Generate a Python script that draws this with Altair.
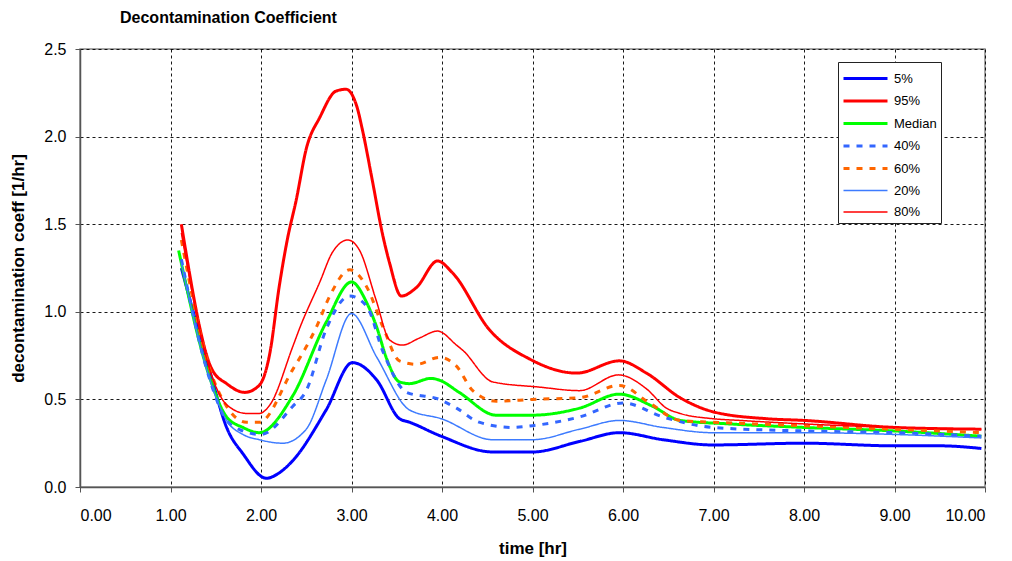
import altair as alt
import pandas as pd

series_order = ["5%", "95%", "Median", "40%", "60%", "20%", "80%"]
series_colors = ["#0000FF", "#FF0000", "#00FF00", "#3366FF", "#FF6600", "#3D7BFF", "#FF0000"]
series_widths = [3, 3, 3, 3, 3, 1.5, 1.5]
series_dash = [[1, 0], [1, 0], [1, 0], [6, 7], [6, 7], [1, 0], [1, 0]]

t5 = [1.12, 1.43, 1.62, 1.80, 2.06, 2.20, 2.35, 2.72, 3.01, 3.28, 3.53, 3.64, 3.99, 4.56, 5.0, 5.52, 5.96, 6.44, 6.99, 8.0, 9.0, 9.5, 9.96]
v5 = [1.25, 0.67, 0.34, 0.19, 0.05, 0.08, 0.15, 0.44, 0.71, 0.61, 0.39, 0.37, 0.29, 0.20, 0.20, 0.26, 0.31, 0.27, 0.24, 0.25, 0.235, 0.235, 0.22]

t95 = [1.12, 1.46, 1.62, 1.82, 1.98, 2.10, 2.20, 2.29, 2.39, 2.50, 2.65, 2.83, 2.94, 3.06, 3.12, 3.23, 3.34, 3.42, 3.55, 3.72, 3.95, 4.12, 4.52, 4.97, 5.49, 5.96, 6.26, 6.63, 6.99, 7.58, 8.0, 9.0, 9.96]
v95 = [1.50, 0.67, 0.59, 0.54, 0.58, 0.77, 1.14, 1.41, 1.64, 1.93, 2.11, 2.26, 2.27, 2.17, 2.04, 1.75, 1.45, 1.28, 1.09, 1.14, 1.29, 1.22, 0.90, 0.73, 0.65, 0.72, 0.65, 0.51, 0.43, 0.39, 0.38, 0.34, 0.33]

t50 = [1.09, 1.43, 1.62, 1.80, 1.98, 2.35, 2.72, 3.0, 3.17, 3.28, 3.39, 3.53, 3.64, 3.88, 3.97, 4.19, 4.60, 5.0, 5.52, 5.96, 6.33, 6.63, 7.18, 8.0, 9.0, 9.96]
v50 = [1.35, 0.63, 0.40, 0.34, 0.31, 0.52, 0.94, 1.17, 1.05, 0.91, 0.73, 0.60, 0.59, 0.62, 0.61, 0.54, 0.41, 0.41, 0.45, 0.53, 0.46, 0.38, 0.36, 0.34, 0.32, 0.29]

t40 = [1.12, 1.43, 1.62, 1.80, 2.0, 2.35, 2.50, 2.72, 2.98, 3.17, 3.35, 3.61, 3.97, 4.16, 4.41, 4.78, 5.0, 5.52, 6.0, 6.44, 6.99, 8.0, 9.0, 9.96]
v40 = [1.30, 0.62, 0.38, 0.32, 0.30, 0.46, 0.55, 0.90, 1.09, 1.03, 0.77, 0.54, 0.50, 0.45, 0.37, 0.34, 0.35, 0.40, 0.48, 0.40, 0.34, 0.32, 0.31, 0.29]

t60 = [1.12, 1.43, 1.62, 1.84, 1.98, 2.35, 2.50, 2.61, 2.76, 2.98, 3.17, 3.35, 3.53, 3.72, 3.97, 4.16, 4.34, 4.60, 5.0, 5.52, 5.96, 6.29, 6.63, 6.99, 8.0, 9.0, 9.96]
v60 = [1.41, 0.68, 0.46, 0.37, 0.37, 0.67, 0.80, 0.91, 1.09, 1.24, 1.14, 0.91, 0.72, 0.70, 0.74, 0.69, 0.55, 0.49, 0.50, 0.51, 0.58, 0.48, 0.38, 0.37, 0.35, 0.33, 0.31]

t20 = [1.12, 1.43, 1.62, 1.80, 1.98, 2.24, 2.50, 2.72, 3.0, 3.28, 3.64, 3.99, 4.56, 5.0, 5.52, 5.96, 6.44, 6.99, 8.0, 9.0, 9.96]
v20 = [1.28, 0.62, 0.38, 0.30, 0.27, 0.25, 0.33, 0.61, 0.99, 0.74, 0.44, 0.39, 0.27, 0.27, 0.33, 0.38, 0.34, 0.31, 0.31, 0.30, 0.28]

t80 = [1.12, 1.46, 1.62, 1.84, 1.98, 2.10, 2.35, 2.43, 2.65, 2.79, 2.96, 3.09, 3.27, 3.42, 3.56, 3.75, 3.95, 4.16, 4.23, 4.56, 5.08, 5.52, 5.95, 6.26, 6.48, 6.63, 6.99, 7.29, 8.0, 9.0, 9.96]
v80 = [1.45, 0.63, 0.47, 0.42, 0.42, 0.47, 0.80, 0.91, 1.17, 1.34, 1.41, 1.35, 1.07, 0.84, 0.81, 0.85, 0.89, 0.81, 0.78, 0.60, 0.57, 0.55, 0.64, 0.56, 0.45, 0.42, 0.39, 0.38, 0.36, 0.34, 0.33]

x_ticks = [0, 1, 2, 3, 4, 5, 6, 7, 8, 9, 10]
y_ticks = [0.0, 0.5, 1.0, 1.5, 2.0, 2.5]

rows = []
for name, ts, vs in [("5%", t5, v5), ("95%", t95, v95), ("Median", t50, v50),
                     ("40%", t40, v40), ("60%", t60, v60), ("20%", t20, v20), ("80%", t80, v80)]:
    for i, (t, v) in enumerate(zip(ts, vs)):
        rows.append({"series": name, "time": t, "coeff": v, "order": i})
df = pd.DataFrame(rows)

FONT = "Liberation Sans"

chart = alt.Chart(df).mark_line(interpolate="monotone").encode(
    x=alt.X("time:Q", title="time [hr]",
            scale=alt.Scale(domain=[0, 10], nice=False, zero=False),
            axis=alt.Axis(values=x_ticks, format=".2f", labelPadding=15, titlePadding=17)),
    y=alt.Y("coeff:Q", title="decontamination coeff [1/hr]",
            scale=alt.Scale(domain=[0, 2.5], nice=False),
            axis=alt.Axis(values=y_ticks, format=".1f", labelPadding=9, titlePadding=16)),
    color=alt.Color("series:N", title=None,
                    scale=alt.Scale(domain=series_order, range=series_colors),
                    legend=alt.Legend(orient="none", legendX=758, legendY=13,
                                      symbolType="M-1,0H3", symbolSize=484,
                                      labelFont=FONT, labelFontSize=13, labelColor="#000",
                                      strokeColor="#222", fillColor="white",
                                      padding=4, labelOffset=27, rowPadding=2.5)),
    strokeWidth=alt.StrokeWidth("series:N", title=None,
                                scale=alt.Scale(type="ordinal", domain=series_order, range=series_widths)),
    strokeDash=alt.StrokeDash("series:N", title=None,
                              scale=alt.Scale(domain=series_order, range=series_dash)),
    order="order:Q",
).properties(
    width=905, height=438,
    background="white",
    autosize=alt.AutoSizeParams(type="none"),
    padding={"left": 72, "top": 41, "right": 19, "bottom": 72},
    title=alt.TitleParams("Decontamination Coefficient", anchor="start", frame="group", dx=40, offset=15,
                          font=FONT, fontSize=16, fontWeight="bold", color="#000"),
).configure_view(
    stroke="#888", strokeWidth=1.5
).configure_axis(
    labelFont=FONT, labelFontSize=16, labelFontWeight="normal", labelColor="#000",
    titleFont=FONT, titleFontSize=17, titleFontWeight="bold", titleColor="#000",
    domainColor="#555", domainWidth=1.5, tickColor="#555", tickSize=5,
    gridColor="#000", gridDash=[3, 3], gridOpacity=0.9, gridWidth=1,
)

chart.save("out.html", embed_options={"renderer": "svg", "actions": False})
